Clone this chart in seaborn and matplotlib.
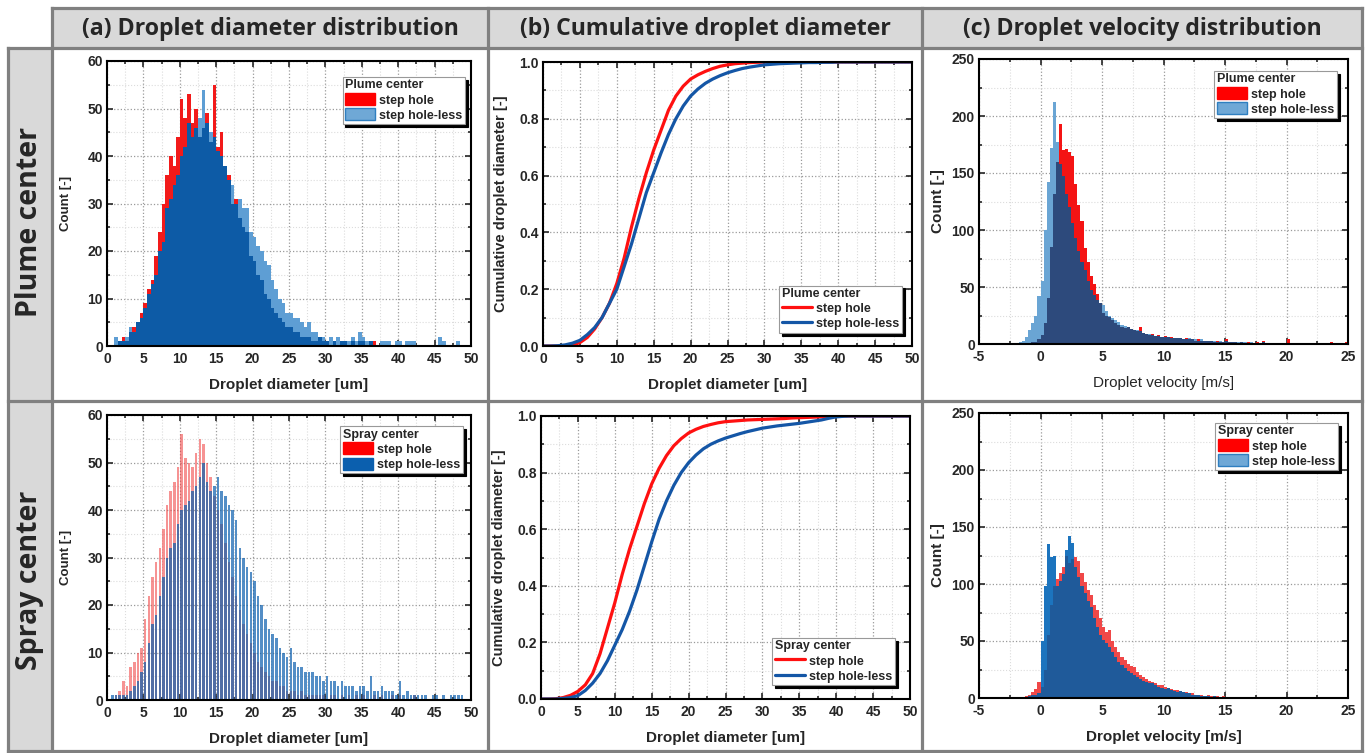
import numpy as np
import pandas as pd
import matplotlib
matplotlib.use("Agg")
import matplotlib.pyplot as plt
from matplotlib.patches import Patch
from matplotlib.lines import Line2D
from matplotlib.ticker import MultipleLocator, FormatStrFormatter
import seaborn as sns

# ---------------- data ----------------
col_titles = ["(a) Droplet diameter distribution", "(b) Cumulative droplet diameter",
              "(c) Droplet velocity distribution"]
row_titles = ["Plume center", "Spray center"]
series_names = ["step hole", "step hole-less"]

# diameter histogram bins: 0..50 um, 0.5 um wide
diam_edges = np.arange(0, 50.01, 0.5)

plume_diam_hole = [0, 0, 0, 1, 2, 1, 3, 4, 5, 7,
                   9, 12, 14, 19, 24, 30, 36, 40, 38, 44,
                   52, 48, 53, 47, 50, 44, 46, 49, 43, 55,
                   42, 45, 38, 36, 30, 31, 27, 25, 24, 19,
                   18, 15, 14, 11, 10, 8, 7, 6, 5, 4,
                   4, 3, 3, 2, 2, 2, 1, 1, 2, 1,
                   1, 0, 1, 0, 1, 1, 0, 1, 0, 1,
                   1, 0, 1, 1, 0, 0, 0, 0, 0, 0,
                   0, 0, 0, 0, 0, 0, 0, 0, 0, 0,
                   0, 0, 0, 0, 0, 0, 0, 0, 0, 0]
plume_diam_holeless = [0, 0, 2, 1, 1, 2, 4, 3, 5, 6,
                       8, 11, 13, 15, 20, 22, 29, 31, 34, 36,
                       40, 42, 47, 44, 46, 48, 54, 47, 45, 44,
                       41, 40, 38, 35, 34, 30, 31, 29, 29, 24,
                       23, 21, 20, 18, 17, 14, 12, 10, 9, 7,
                       7, 6, 6, 5, 4, 5, 3, 3, 2, 2,
                       1, 2, 1, 2, 1, 1, 1, 2, 1, 3,
                       2, 1, 1, 0, 0, 1, 1, 1, 0, 1,
                       1, 0, 1, 1, 1, 0, 0, 0, 0, 0,
                       0, 2, 1, 0, 0, 0, 1, 0, 0, 0]
spray_diam_hole = [0, 0, 1, 2, 4, 3, 7, 8, 10, 11,
                   17, 22, 26, 29, 32, 36, 41, 44, 46, 49,
                   56, 51, 50, 49, 52, 55, 54, 50, 47, 43,
                   40, 37, 33, 29, 26, 22, 19, 16, 14, 12,
                   10, 8, 7, 6, 5, 4, 4, 3, 3, 2,
                   2, 2, 1, 2, 1, 1, 1, 1, 1, 1,
                   0, 1, 1, 0, 1, 0, 1, 0, 1, 0,
                   1, 0, 0, 1, 0, 1, 0, 0, 1, 0,
                   1, 0, 0, 0, 1, 0, 0, 0, 0, 0,
                   0, 0, 0, 0, 0, 0, 0, 0, 0, 0]
spray_diam_holeless = [0, 1, 1, 1, 1, 1, 2, 3, 4, 6,
                       8, 12, 16, 18, 22, 26, 30, 32, 33, 37,
                       40, 41, 42, 44, 45, 47, 50, 46, 44, 45,
                       47, 44, 43, 41, 40, 38, 32, 30, 28, 27,
                       25, 22, 20, 17, 15, 14, 13, 11, 10, 9,
                       11, 8, 7, 7, 6, 6, 6, 5, 5, 4,
                       5, 4, 4, 3, 4, 3, 3, 3, 2, 3,
                       3, 2, 5, 2, 2, 3, 2, 2, 2, 1,
                       4, 1, 2, 1, 1, 1, 1, 1, 0, 1,
                       1, 0, 1, 0, 1, 1, 1, 1, 0, 0]

# cumulative curves sampled at 0,1,...,50 um
cdf_diam = list(range(0, 51))
plume_cdf_hole = [0, 0, 0, 0, 0.003, 0.012, 0.03, 0.06, 0.10, 0.15,
                  0.22, 0.31, 0.42, 0.52, 0.61, 0.69, 0.76, 0.83, 0.88, 0.915,
                  0.94, 0.955, 0.967, 0.977, 0.985, 0.99, 0.994, 0.996, 0.998, 0.999,
                  1.0, 1.0, 1.0, 1.0, 1.0, 1.0, 1.0, 1.0, 1.0, 1.0,
                  1.0, 1.0, 1.0, 1.0, 1.0, 1.0, 1.0, 1.0, 1.0, 1.0, 1.0]
plume_cdf_holeless = [0, 0, 0.001, 0.004, 0.01, 0.02, 0.04, 0.065, 0.10, 0.15,
                      0.20, 0.28, 0.36, 0.45, 0.54, 0.61, 0.68, 0.745, 0.80, 0.845,
                      0.88, 0.905, 0.925, 0.94, 0.952, 0.962, 0.97, 0.977, 0.982, 0.986,
                      0.99, 0.992, 0.994, 0.995, 0.996, 0.997, 0.998, 0.998, 0.999, 0.999,
                      1.0, 1.0, 1.0, 1.0, 1.0, 1.0, 1.0, 1.0, 1.0, 1.0, 1.0]
spray_cdf_hole = [0, 0, 0.001, 0.005, 0.013, 0.027, 0.05, 0.09, 0.16, 0.25,
                  0.34, 0.44, 0.53, 0.61, 0.69, 0.76, 0.815, 0.86, 0.895, 0.92,
                  0.94, 0.953, 0.963, 0.97, 0.976, 0.98, 0.982, 0.984, 0.986, 0.987,
                  0.988, 0.989, 0.99, 0.991, 0.993, 0.994, 0.995, 0.996, 0.997, 0.998,
                  1.0, 1.0, 1.0, 1.0, 1.0, 1.0, 1.0, 1.0, 1.0, 1.0, 1.0]
spray_cdf_holeless = [0, 0, 0, 0.002, 0.005, 0.012, 0.03, 0.056, 0.09, 0.135,
                      0.19, 0.245, 0.31, 0.385, 0.47, 0.555, 0.635, 0.70, 0.755, 0.80,
                      0.835, 0.862, 0.884, 0.90, 0.912, 0.922, 0.93, 0.938, 0.945, 0.951,
                      0.957, 0.961, 0.965, 0.968, 0.971, 0.974, 0.978, 0.982, 0.986, 0.992,
                      0.997, 0.999, 1.0, 1.0, 1.0, 1.0, 1.0, 1.0, 1.0, 1.0, 1.0]

# velocity histogram bins: -4..25 m/s, 0.25 m/s wide (each group of 4 = 1 m/s)
vel_edges = np.arange(-4, 25.001, 0.25)
plume_vel_hole = [0, 0, 1, 0,   1, 0, 1, 0,   1, 1, 0, 1,   1, 2, 2, 4,
                  8, 18, 40, 85,   132, 160, 193, 170,   171, 168, 165, 140,
                  122, 108, 84, 72,   60, 53, 44, 36,   27, 25, 24, 21,
                  18, 17, 15, 14,   15, 13, 12, 11,   15, 10, 9, 8,
                  9, 7, 8, 6,   7, 6, 6, 5,   5, 5, 4, 5,   4, 4, 3, 4,
                  3, 3, 3, 3,   2, 3, 2, 2,   4, 2, 2, 2,   1, 2, 1, 2,
                  1, 1, 2, 1,   3, 1, 1, 1,   1, 1, 1, 1,   4, 1, 1, 0,
                  1, 1, 0, 1,   0, 1, 0, 1,   0, 1, 2, 0,   1, 0, 1, 2]
plume_vel_holeless = [0, 0, 0, 0,   0, 0, 1, 1,   1, 2, 3, 6,   12, 18, 25, 42,
                      55, 100, 142, 172,   212, 177, 158, 147,   132, 120, 106, 93,
                      82, 72, 65, 55,   47, 43, 39, 36,   34, 29, 25, 23,
                      21, 19, 17, 16,   15, 13, 12, 12,   11, 10, 9, 9,
                      8, 7, 7, 6,   6, 6, 5, 5,   5, 5, 4, 4,   5, 4, 4, 3,
                      4, 3, 3, 3,   3, 2, 3, 2,   3, 2, 2, 2,   2, 2, 2, 1,
                      2, 1, 1, 1,   2, 1, 1, 1,   1, 1, 1, 1,   1, 1, 1, 1,
                      1, 0, 1, 1,   0, 1, 1, 0,   1, 0, 1, 1,   0, 1, 0, 0]
spray_vel_hole = [0, 0, 1, 0,   0, 0, 1, 0,   1, 1, 1, 2,   3, 5, 8, 14,
                  10, 25, 55, 82,   98, 104, 110, 115,   125, 118, 122, 124,
                  120, 110, 102, 95,   90, 82, 77, 70,   62, 58, 60, 50,
                  45, 40, 36, 33,   30, 28, 27, 23,   20, 18, 17, 15,
                  14, 13, 11, 11,   10, 9, 8, 7,   7, 6, 5, 5,   4, 4, 3, 3,
                  3, 2, 3, 2,   2, 2, 1, 2,   1, 1, 1, 1,   1, 0, 1, 0,
                  1, 0, 0, 1,   0, 0, 0, 1,   0, 1, 0, 0,   0, 0, 0, 0,
                  0, 0, 0, 0,   0, 0, 0, 0,   0, 0, 0, 0,   0, 0, 0, 0]
spray_vel_holeless = [0, 0, 0, 0,   0, 0, 0, 0,   0, 1, 0, 1,   2, 3, 3, 4,
                      50, 98, 135, 124,   125, 98, 103, 109,   130, 142, 136, 115,
                      106, 98, 92, 85,   80, 70, 62, 55,   51, 48, 45, 40,
                      36, 32, 29, 26,   24, 22, 20, 18,   17, 15, 14, 13,
                      13, 11, 10, 9,   8, 9, 7, 6,   5, 6, 5, 4,   4, 3, 3, 3,
                      2, 2, 2, 1,   2, 1, 1, 1,   1, 1, 1, 0,   1, 0, 0, 0,
                      1, 0, 0, 0,   0, 0, 0, 0,   0, 1, 0, 0,   0, 1, 1, 0,
                      0, 0, 0, 0,   0, 0, 0, 0,   0, 0, 0, 0,   0, 0, 0, 0]

# ---------------- style ----------------
sns.set_style("ticks")
plt.rcParams['font.family'] = ['Liberation Sans', 'DejaVu Sans']
plt.rcParams['font.weight'] = 'bold'
plt.rcParams['axes.labelweight'] = 'bold'
plt.rcParams['axes.unicode_minus'] = False

W, H = 1370, 753
fig = plt.figure(figsize=(W / 100, H / 100), dpi=100)


def rect(l, t, r, b):
    return [l / W, 1 - b / H, (r - l) / W, (b - t) / H]


# ---------------- table background ----------------
bg = fig.add_axes([0, 0, 1, 1], zorder=-10)
bg.set_xlim(0, W)
bg.set_ylim(H, 0)
bg.axis('off')
cell_gray = '#d9d9d9'
line_gray = '#808080'
bg.fill_between([52, 1362], 8, 48, color=cell_gray, lw=0)
bg.fill_between([8, 52], 48, 751, color=cell_gray, lw=0)
lw_b = 2.3
for y, x0 in [(8, 52), (48, 8), (401, 8), (751, 8)]:
    bg.plot([x0, 1362], [y, y], color=line_gray, lw=lw_b, solid_capstyle='projecting')
bg.plot([8, 8], [48, 751], color=line_gray, lw=lw_b, solid_capstyle='projecting')
for x in [52, 488, 922, 1362]:
    bg.plot([x, x], [8, 751], color=line_gray, lw=lw_b, solid_capstyle='projecting')
head_font = ['Open Sans', 'Noto Sans', 'DejaVu Sans']
for cx, t in zip([270, 705, 1142], col_titles):
    bg.text(cx, 29, t, ha='center', va='center', fontsize=16.7, fontweight='bold',
            family=head_font)
for cy, t in zip([222, 580], row_titles):
    bg.text(30, cy, t, ha='center', va='center', fontsize=20.5, fontweight='bold',
            rotation=90, family=head_font)

# ---------------- helpers ----------------
RED = '#ff0000'
LBLUE = '#6fa8d6'


def style_axes(ax, xlim, ylim, xmaj, xmin, ymaj, ymin):
    ax.set_xlim(*xlim)
    ax.set_ylim(*ylim)
    ax.xaxis.set_major_locator(MultipleLocator(xmaj))
    ax.xaxis.set_minor_locator(MultipleLocator(xmin))
    ax.yaxis.set_major_locator(MultipleLocator(ymaj))
    ax.yaxis.set_minor_locator(MultipleLocator(ymin))
    ax.set_axisbelow(True)
    ax.grid(which='major', ls=':', color='#9a9a9a', lw=0.9)
    ax.grid(which='minor', ls=':', color='#dcdcdc', lw=0.8)
    ax.tick_params(which='both', direction='in', top=True, right=True,
                   labelsize=10, width=1.2)
    ax.tick_params(axis='x', which='both', pad=4)
    ax.tick_params(axis='y', which='both', pad=3)
    ax.tick_params(which='major', length=4)
    ax.tick_params(which='minor', length=2.5)
    for s in ax.spines.values():
        s.set_linewidth(1.5)
        s.set_color('black')


def legend(ax, handles, title, loc, anchor):
    lg = ax.legend(handles=handles, title=title, loc=loc, bbox_to_anchor=anchor,
                   bbox_transform=ax.transAxes, alignment='left',
                   title_fontproperties={'weight': 'bold', 'size': 9},
                   prop={'weight': 'bold', 'size': 9}, frameon=True, fancybox=False,
                   edgecolor='#999999', framealpha=1,
                   shadow={'color': 'black', 'alpha': 1},
                   borderpad=0.2, labelspacing=0.15, handlelength=2.4,
                   handleheight=1.1, handletextpad=0.35, borderaxespad=0)
    lg.get_frame().set_linewidth(0.8)
    return lg


def hist(ax, edges, counts, color, alpha, shrink):
    df = pd.DataFrame({'x': (edges[:-1] + edges[1:]) / 2,
                       'w': np.asarray(counts, float)})
    sns.histplot(data=df, x='x', weights='w', bins=[float(e) for e in edges],
                 color=color, alpha=alpha, linewidth=0, edgecolor='none',
                 shrink=shrink, ax=ax)


def layered_hist(ax, edges, red, blue, c_red, c_blue, c_over, shrink):
    over = np.minimum(np.asarray(red, float), np.asarray(blue, float))
    hist(ax, edges, red, c_red, 1, shrink)
    hist(ax, edges, blue, c_blue, 1, shrink)
    hist(ax, edges, over, c_over, 1, shrink)


XPAD = 9

# ---------------- (a) diameter histograms ----------------
ax = fig.add_axes(rect(107, 61, 471, 346))
layered_hist(ax, diam_edges, plume_diam_hole, plume_diam_holeless,
             '#f21a1a', '#5e9ed4', '#0d5ba6', 1.0)
style_axes(ax, (0, 50), (0, 60), 5, 2.5, 10, 5)
ax.set_xlabel('Droplet diameter [um]', fontsize=11, labelpad=XPAD)
ax.set_ylabel('Count [-]', fontsize=9.5, labelpad=11)
legend(ax, [Patch(facecolor=RED, edgecolor=RED, label=series_names[0]),
            Patch(facecolor=LBLUE, edgecolor='#2f7fc0', label=series_names[1])],
       'Plume center', 'upper right', (0.984, 0.944))

ax = fig.add_axes(rect(107, 415, 471, 700))
hist(ax, diam_edges, spray_diam_hole, '#f03a3a', 0.55, 0.7)
hist(ax, diam_edges, spray_diam_holeless, '#0b5fae', 0.7, 0.7)
style_axes(ax, (0, 50), (0, 60), 5, 2.5, 10, 5)
ax.set_xlabel('Droplet diameter [um]', fontsize=11, labelpad=XPAD)
ax.set_ylabel('Count [-]', fontsize=9.5, labelpad=11)
legend(ax, [Patch(facecolor=RED, edgecolor=RED, label=series_names[0]),
            Patch(facecolor='#0b5fae', edgecolor='#0b5fae', label=series_names[1])],
       'Spray center', 'upper right', (0.978, 0.961))

# ---------------- (b) cumulative ----------------
for (l, t, r, b), hole, holeless, title, anchor in [
        ((543, 62, 912, 346), plume_cdf_hole, plume_cdf_holeless, 'Plume center', (0.973, 0.046)),
        ((541, 416, 910, 699), spray_cdf_hole, spray_cdf_holeless, 'Spray center', (0.959, 0.049))]:
    ax = fig.add_axes(rect(l, t, r, b))
    sns.lineplot(x=cdf_diam, y=hole, color='#ff1010', lw=2.3, ax=ax)
    sns.lineplot(x=cdf_diam, y=holeless, color='#1456a6', lw=2.3, ax=ax)
    style_axes(ax, (0, 50), (0, 1.0), 5, 2.5, 0.2, 0.1)
    ax.yaxis.set_major_formatter(FormatStrFormatter('%.1f'))
    ax.set_xlabel('Droplet diameter [um]', fontsize=11, labelpad=XPAD)
    ax.set_ylabel('Cumulative droplet diameter [-]', fontsize=10.5, labelpad=8)
    legend(ax, [Line2D([], [], color='#ff1010', lw=2.3, label=series_names[0]),
                Line2D([], [], color='#1456a6', lw=2.3, label=series_names[1])],
           title, 'lower right', anchor)

# ---------------- (c) velocity histograms ----------------
ax = fig.add_axes(rect(979, 59, 1348, 344))
layered_hist(ax, vel_edges, plume_vel_hole, plume_vel_holeless,
             '#f41414', '#6aa5d4', '#2d4a7c', 1.0)
style_axes(ax, (-5, 25), (0, 250), 5, 2.5, 50, 25)
ax.set_xlabel('Droplet velocity [m/s]', fontsize=11, fontweight='normal', labelpad=XPAD)
ax.set_ylabel('Count [-]', fontsize=11, labelpad=5)
legend(ax, [Patch(facecolor=RED, edgecolor=RED, label=series_names[0]),
            Patch(facecolor=LBLUE, edgecolor='#2f7fc0', label=series_names[1])],
       'Plume center', 'upper right', (0.970, 0.958))

ax = fig.add_axes(rect(979, 413, 1348, 698))
layered_hist(ax, vel_edges, spray_vel_hole, spray_vel_holeless,
             '#f04848', '#1c74be', '#1f5a9a', 1.0)
style_axes(ax, (-5, 25), (0, 250), 5, 2.5, 50, 25)
ax.set_xlabel('Droplet velocity [m/s]', fontsize=11, labelpad=XPAD)
ax.set_ylabel('Count [-]', fontsize=11, labelpad=5)
legend(ax, [Patch(facecolor=RED, edgecolor=RED, label=series_names[0]),
            Patch(facecolor=LBLUE, edgecolor='#2f7fc0', label=series_names[1])],
       'Spray center', 'upper right', (0.973, 0.965))

fig.savefig('out.png', dpi=100)
